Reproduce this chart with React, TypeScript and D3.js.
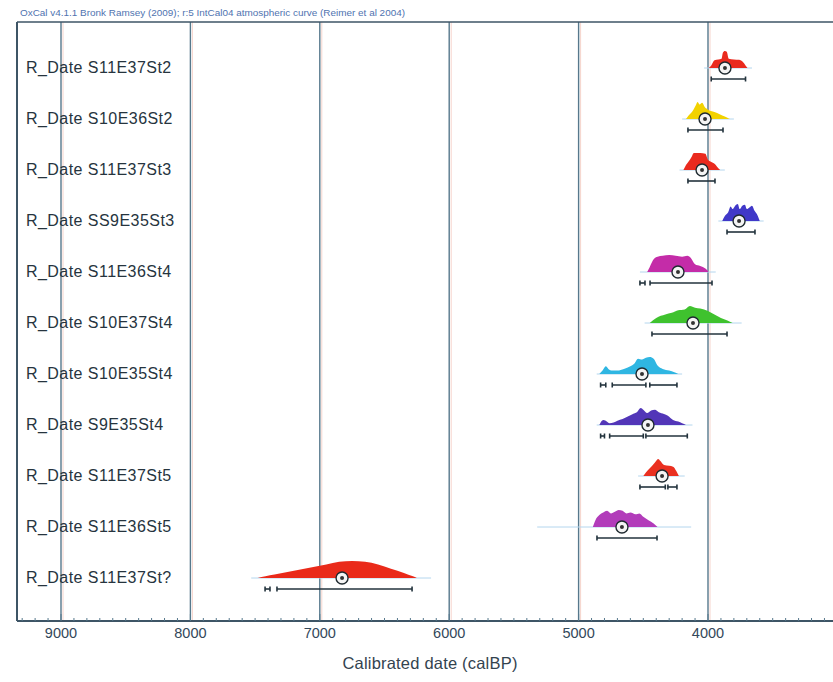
import React from 'react';
import * as d3 from 'd3';

// sample names, top to bottom
const labels = [
  'R_Date S11E37St2',
  'R_Date S10E36St2',
  'R_Date S11E37St3',
  'R_Date SS9E35St3',
  'R_Date S11E36St4',
  'R_Date S10E37St4',
  'R_Date S10E35St4',
  'R_Date S9E35St4',
  'R_Date S11E37St5',
  'R_Date S11E36St5',
  'R_Date S11E37St?',
];

const colors = [
  '#ea2a1e', '#f2d200', '#ea2a1e', '#4038c8', '#c42ca8', '#3fc22e',
  '#2fb6e2', '#5236b8', '#ea3020', '#b23cba', '#ea2a1a',
];

// probability densities [calBP, relative density]
const dist1 = [[3995, 0], [3975, 0.15], [3950, 0.45], [3920, 0.5], [3895, 0.55], [3885, 0.9], [3870, 1], [3855, 0.95], [3840, 0.55], [3800, 0.5], [3760, 0.48], [3730, 0.35], [3710, 0.15], [3695, 0]];
const dist2 = [[4170, 0], [4150, 0.2], [4120, 0.45], [4095, 0.8], [4080, 1], [4065, 0.85], [4045, 0.95], [4025, 0.7], [4000, 0.55], [3970, 0.45], [3930, 0.35], [3890, 0.2], [3850, 0.08], [3830, 0]];
const dist3 = [[4190, 0], [4170, 0.3], [4150, 0.5], [4125, 0.8], [4110, 1], [4060, 1], [4020, 0.95], [4000, 0.6], [3970, 0.45], [3940, 0.3], [3920, 0.1], [3905, 0]];
const dist4 = [[3890, 0], [3870, 0.3], [3845, 0.5], [3825, 0.85], [3810, 0.7], [3790, 0.9], [3770, 1], [3755, 0.7], [3735, 0.9], [3715, 0.95], [3700, 0.7], [3680, 0.8], [3660, 0.9], [3640, 0.6], [3615, 0.3], [3600, 0]];
const dist5 = [[4470, 0], [4450, 0.3], [4420, 0.75], [4390, 0.9], [4350, 0.95], [4300, 1], [4250, 0.95], [4200, 0.9], [4160, 0.95], [4130, 0.8], [4100, 0.45], [4060, 0.35], [4020, 0.2], [3995, 0]];
const dist6 = [[4450, 0], [4400, 0.3], [4330, 0.5], [4280, 0.6], [4230, 0.75], [4180, 0.8], [4140, 1], [4100, 0.9], [4060, 0.85], [4000, 0.7], [3950, 0.5], [3900, 0.3], [3850, 0.15], [3810, 0]];
const dist7 = [[4840, 0], [4815, 0.2], [4790, 0.45], [4770, 0.3], [4740, 0.2], [4700, 0.2], [4650, 0.3], [4600, 0.45], [4570, 0.6], [4540, 0.9], [4510, 0.85], [4480, 0.95], [4450, 1], [4420, 0.9], [4390, 0.5], [4350, 0.3], [4300, 0.2], [4260, 0.1], [4230, 0]];
const dist8 = [[4840, 0], [4810, 0.3], [4790, 0.25], [4760, 0.1], [4730, 0.15], [4700, 0.25], [4660, 0.35], [4620, 0.5], [4580, 0.65], [4550, 0.75], [4520, 1], [4500, 0.9], [4470, 0.7], [4440, 0.85], [4410, 0.9], [4380, 0.75], [4340, 0.65], [4310, 0.55], [4270, 0.3], [4230, 0.2], [4200, 0.1], [4170, 0]];
const dist9 = [[4500, 0], [4480, 0.2], [4450, 0.45], [4420, 0.7], [4400, 0.9], [4385, 1], [4370, 0.9], [4340, 0.65], [4300, 0.6], [4270, 0.55], [4245, 0.3], [4225, 0]];
const dist10 = [[4890, 0], [4870, 0.4], [4840, 0.7], [4810, 0.85], [4780, 0.95], [4750, 0.8], [4720, 0.9], [4690, 1], [4660, 0.95], [4630, 0.8], [4600, 0.85], [4560, 0.75], [4530, 0.8], [4500, 0.6], [4460, 0.4], [4420, 0.2], [4390, 0]];
const dist11 = [[7480, 0], [7420, 0.1], [7350, 0.2], [7250, 0.35], [7150, 0.5], [7050, 0.65], [6950, 0.8], [6850, 0.95], [6750, 1], [6650, 0.95], [6550, 0.8], [6450, 0.55], [6350, 0.3], [6280, 0.1], [6250, 0]];
const dists = [dist1, dist2, dist3, dist4, dist5, dist6, dist7, dist8, dist9, dist10, dist11];

// mean of each distribution (calBP)
const means = [3869, 4023, 4046, 3760, 4232, 4116, 4510, 4464, 4355, 4665, 6828];

// 95.4% ranges, as segments [from, to]
const ranges = [
  [[3975, 3710]],
  [[4155, 3884]],
  [[4155, 3946]],
  [[3853, 3637]],
  [[4526, 4487], [4448, 3969]],
  [[4433, 3853]],
  [[4830, 4790], [4740, 4480], [4450, 4240]],
  [[4830, 4800], [4760, 4500], [4480, 4160]],
  [[4526, 4330], [4310, 4240]],
  [[4858, 4394]],
  [[7423, 7385], [7331, 6287]],
];

// extent of the thin likelihood baseline
const baseExtent = [
  [4030, 3660], [4200, 3800], [4220, 3870], [3920, 3570], [4526, 3940], [4490, 3740],
  [4860, 4200], [4860, 4120], [4540, 4180], [5320, 4130], [7530, 6140],
];

const xTicks = [9000, 8000, 7000, 6000, 5000, 4000];

const W = 833;
const H = 682;
const left = 17;
const top = 22;
const bottom = 621;

export default function App() {
  const x = d3.scaleLinear().domain([9000, 4000]).range([61, 708]);
  const y = d3.scalePoint<string>().domain(labels).range([68, 578]);
  const h = d3.scaleLinear().domain([0, 1]).range([0, 17]);
  const minor = d3.range(3100, 9400, 100);

  const frameColor = '#3e5566';
  const gridColor = '#56788c';
  const font = 'Liberation Sans, Arial, sans-serif';

  return (
    <svg width={W} height={H} style={{ position: 'absolute', left: 0, top: 0, background: '#fff' }}>
      <text x={20} y={16} fontFamily={font} fontSize={8.6} fill="#4f73b0" textLength={385} lengthAdjust="spacingAndGlyphs">
        OxCal v4.1.1 Bronk Ramsey (2009); r:5 IntCal04 atmospheric curve (Reimer et al 2004)
      </text>

      {/* grid */}
      {xTicks.map(t => (
        <g key={t}>
          <line x1={x(t) + 2} x2={x(t) + 2} y1={top} y2={bottom} stroke="#f6d4cc" strokeWidth={1} />
          <line x1={x(t)} x2={x(t)} y1={top} y2={bottom} stroke={gridColor} strokeWidth={1.4} />
        </g>
      ))}

      {/* frame */}
      <line x1={left} x2={W} y1={top} y2={top} stroke={frameColor} strokeWidth={1.6} />
      <line x1={left} x2={left} y1={top} y2={bottom} stroke={frameColor} strokeWidth={2} />

      {/* rows */}
      {labels.map((lab, i) => {
        const base = y(lab) as number;
        const area = d3.area<number[]>()
          .x(d => x(d[0]))
          .y0(base)
          .y1(d => base - h(d[1]))
          .curve(d3.curveMonotoneX);
        const [e0, e1] = baseExtent[i];
        return (
          <g key={lab}>
            <text x={26} y={base + 5} fontFamily={font} fontSize={16} letterSpacing={0.45} fill="#26343e">{lab}</text>
            <line x1={x(e0)} x2={x(e1)} y1={base} y2={base} stroke="#b4d6ee" strokeWidth={1} />
            <path d={area(dists[i] as number[][]) || ''} fill={colors[i]} />
            {ranges[i].map((r, j) => (
              <g key={j} stroke="#23333d" strokeWidth={1.6}>
                <line x1={x(r[0])} x2={x(r[1])} y1={base + 11} y2={base + 11} />
                <line x1={x(r[0])} x2={x(r[0])} y1={base + 8.5} y2={base + 13.5} />
                <line x1={x(r[1])} x2={x(r[1])} y1={base + 8.5} y2={base + 13.5} />
              </g>
            ))}
            <circle cx={x(means[i])} cy={base} r={6} fill="#f4f4f4" stroke="#1f2a30" strokeWidth={1.4} />
            <circle cx={x(means[i])} cy={base} r={2} fill="#333" />
          </g>
        );
      })}

      {/* x axis */}
      <line x1={left} x2={W} y1={bottom} y2={bottom} stroke={frameColor} strokeWidth={2} />
      {minor.map(t => (
        <line key={t} x1={x(t)} x2={x(t)} y1={bottom} y2={bottom - (t % 1000 === 0 ? 7 : 3)} stroke={gridColor} strokeWidth={1} />
      ))}
      {xTicks.map(t => (
        <text key={t} x={x(t)} y={638} textAnchor="middle" fontFamily={font} fontSize={14.5} fill="#33485a">{t}</text>
      ))}
      <text x={430} y={669} textAnchor="middle" fontFamily={font} fontSize={16.5} letterSpacing={0.2} fill="#33434f">
        Calibrated date (calBP)
      </text>
    </svg>
  );
}
